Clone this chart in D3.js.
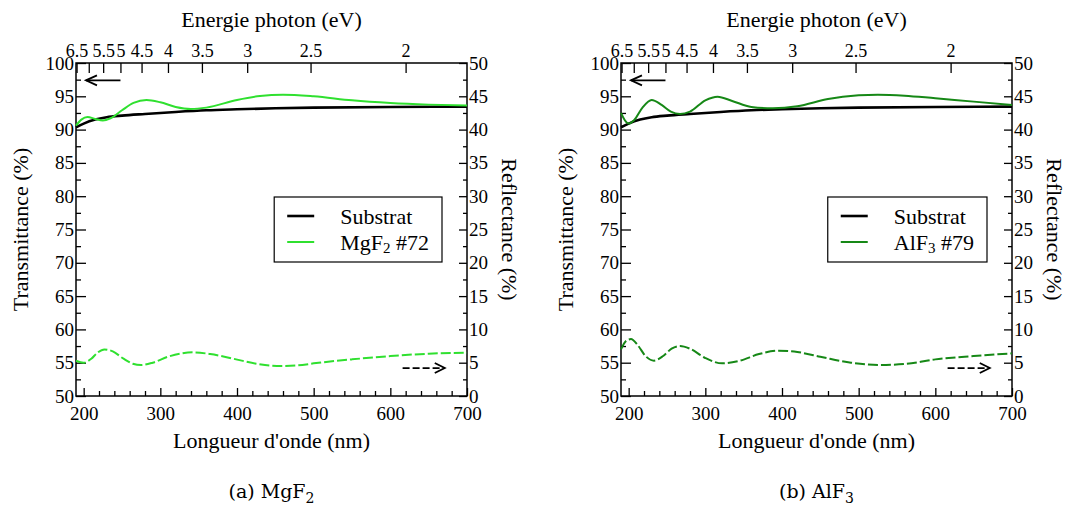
<!DOCTYPE html>
<html><head><meta charset="utf-8">
<script src="https://cdn.jsdelivr.net/npm/d3@7"></script>
<style>
body{margin:0;background:#fff}
svg{display:block;background:#fff}
</style>
</head><body>
<svg id="c" width="1074" height="520"></svg>
<script>
// ---------- DATA ----------
// Panel (a) MgF2
const wlSubA   = [190, 200, 215, 230, 250, 280, 320, 360, 400, 450, 500, 600, 700];
const tSubA    = [90.35, 90.9, 91.5, 91.85, 92.1, 92.35, 92.65, 92.9, 93.05, 93.2, 93.3, 93.4, 93.45];
const wlMgF2T  = [190, 197, 205, 215, 225, 235, 250, 265, 282, 300, 320, 340, 360, 400, 430, 460, 500, 550, 600, 650, 700];
const tMgF2    = [90.6, 91.5, 91.9, 91.6, 91.35, 91.7, 92.9, 94.0, 94.45, 94.1, 93.4, 93.1, 93.3, 94.45, 95.05, 95.25, 95.0, 94.4, 94.0, 93.75, 93.6];
const wlMgF2R  = [190, 200, 210, 218, 227, 238, 252, 264, 275, 290, 310, 325, 342, 365, 395, 425, 452, 480, 500, 550, 600, 650, 700];
const rMgF2    = [5.3, 5.0, 5.6, 6.5, 7.0, 6.7, 5.6, 4.85, 4.65, 5.0, 5.9, 6.35, 6.56, 6.3, 5.6, 4.85, 4.5, 4.6, 4.9, 5.5, 6.0, 6.35, 6.5];

// Panel (b) AlF3
const wlSubB   = [190, 200, 215, 230, 250, 280, 320, 360, 400, 450, 500, 600, 700];
const tSubB    = [90.35, 90.9, 91.5, 91.85, 92.1, 92.35, 92.65, 92.9, 93.05, 93.2, 93.3, 93.4, 93.45];
const wlAlF3T  = [190, 195, 200, 207, 218, 230, 243, 255, 267, 280, 300, 316, 335, 360, 388, 420, 460, 500, 525, 560, 600, 650, 700];
const tAlF3    = [92.5, 91.4, 90.9, 91.4, 93.3, 94.45, 93.7, 92.7, 92.35, 92.7, 94.4, 94.95, 94.3, 93.4, 93.2, 93.5, 94.6, 95.15, 95.25, 95.1, 94.7, 94.2, 93.7];
const wlAlF3R  = [190, 196, 203, 212, 222, 233, 245, 256, 267, 280, 300, 322, 345, 370, 395, 420, 450, 490, 528, 560, 600, 650, 700];
const rAlF3    = [7.0, 8.2, 8.55, 7.6, 6.0, 5.3, 6.0, 7.1, 7.5, 7.1, 5.7, 4.9, 5.3, 6.3, 6.8, 6.6, 5.9, 5.0, 4.65, 4.8, 5.5, 6.0, 6.4];

// Axes ticks
const xTicks      = [200, 300, 400, 500, 600, 700];
const energyTicks = [6.5, 6, 5.5, 5, 4.5, 4, 3.5, 3, 2.5, 2];
const energyLabels= ["6.5", "", "5.5", "5", "4.5", "4", "3.5", "3", "2.5", "2"];
const tTicks      = [50, 55, 60, 65, 70, 75, 80, 85, 90, 95, 100];
const rTicks      = [0, 5, 10, 15, 20, 25, 30, 35, 40, 45, 50];

// ---------- DRAW ----------
const svg = d3.select("#c");
const SERIF = "'Liberation Serif','Times New Roman',serif";
const hc = 1239.84;

function zip(a, b) { return a.map((v, i) => [v, b[i]]); }

function panel(opt) {
  const x0 = opt.x0, x1 = opt.x0 + 391, yTop = 63, yBot = 396;
  const g = svg.append("g");
  const x = d3.scaleLinear().domain([190, 700]).range([x0, x1]);
  const yT = d3.scaleLinear().domain([50, 100]).range([yBot, yTop]);
  const yR = d3.scaleLinear().domain([0, 50]).range([yBot, yTop]);

  function styleAxis(a, size) {
    a.select(".domain").remove();
    a.attr("font-family", null).attr("font-size", null)
     .style("font-family", SERIF).style("font-size", size + "px");
    a.selectAll("line").attr("stroke", "#000").attr("stroke-width", 1.3);
    a.selectAll("text").attr("fill", "#000");
  }

  // bottom axis
  const minorX = d3.range(200, 701, 20).filter(v => v % 100 !== 0);
  styleAxis(g.append("g").attr("transform", `translate(0,${yBot})`)
    .call(d3.axisBottom(x).tickValues(xTicks).tickSize(-8).tickPadding(11).tickFormat(d3.format("d"))), 19);
  styleAxis(g.append("g").attr("transform", `translate(0,${yBot})`)
    .call(d3.axisBottom(x).tickValues(minorX).tickSize(-5).tickFormat("")), 19);

  // top axis (energy)
  styleAxis(g.append("g").attr("transform", `translate(0,${yTop})`)
    .call(d3.axisTop(x).tickValues(energyTicks.map(e => hc / e)).tickSize(-10).tickPadding(6)
      .tickFormat((d, i) => energyLabels[i])), 18);

  // left axis
  styleAxis(g.append("g").attr("transform", `translate(${x0},0)`)
    .call(d3.axisLeft(yT).tickValues(tTicks).tickSize(-10).tickPadding(2).tickFormat(d3.format("d"))), 19);
  styleAxis(g.append("g").attr("transform", `translate(${x0},0)`)
    .call(d3.axisLeft(yT).tickValues(d3.range(52.5, 100, 5)).tickSize(-5).tickFormat("")), 19);

  // right axis
  styleAxis(g.append("g").attr("transform", `translate(${x1},0)`)
    .call(d3.axisRight(yR).tickValues(rTicks).tickSize(-8).tickPadding(2).tickFormat(d3.format("d"))), 19);
  styleAxis(g.append("g").attr("transform", `translate(${x1},0)`)
    .call(d3.axisRight(yR).tickValues(d3.range(2.5, 50, 5)).tickSize(-4).tickFormat("")), 19);

  // frame
  g.append("rect").attr("x", x0).attr("y", yTop).attr("width", x1 - x0).attr("height", yBot - yTop)
    .attr("fill", "none").attr("stroke", "#000").attr("stroke-width", 1.5);

  // curves
  const lineT = d3.line().x(d => x(d[0])).y(d => yT(d[1])).curve(d3.curveMonotoneX);
  const lineR = d3.line().x(d => x(d[0])).y(d => yR(d[1])).curve(d3.curveMonotoneX);
  g.append("path").attr("d", lineR(zip(opt.wlR, opt.r))).attr("fill", "none")
    .attr("stroke", opt.color).attr("stroke-width", 2).attr("stroke-dasharray", "10,3");
  g.append("path").attr("d", lineT(zip(opt.wlSub, opt.tSub))).attr("fill", "none")
    .attr("stroke", "#000").attr("stroke-width", 2.6);
  g.append("path").attr("d", lineT(zip(opt.wlT, opt.t))).attr("fill", "none")
    .attr("stroke", opt.color).attr("stroke-width", 2);

  // arrows
  const ay = yT(97.4);
  const ax0 = x(203), ax1 = x(248);
  g.append("line").attr("x1", ax0).attr("x2", ax1).attr("y1", ay).attr("y2", ay).attr("stroke", "#000").attr("stroke-width", 1.8);
  g.append("path").attr("d", `M${ax0 + 11},${ay - 5}L${ax0},${ay}L${ax0 + 11},${ay + 5}`)
    .attr("fill", "none").attr("stroke", "#000").attr("stroke-width", 1.8);
  const by = yR(4.2);
  const bx0 = x(616), bx1 = x(671);
  g.append("line").attr("x1", bx0).attr("x2", bx1).attr("y1", by).attr("y2", by).attr("stroke", "#000")
    .attr("stroke-width", 1.8).attr("stroke-dasharray", "7,3");
  g.append("path").attr("d", `M${bx1 - 10},${by - 5}L${bx1},${by}L${bx1 - 10},${by + 5}`)
    .attr("fill", "none").attr("stroke", "#000").attr("stroke-width", 1.8);

  // axis titles
  const cx = (x0 + x1) / 2, cy = (yTop + yBot) / 2;
  const title = (sel) => sel.style("font-family", SERIF).style("font-size", "22px").attr("fill", "#000");
  g.append("text").attr("x", cx).attr("y", 448).attr("text-anchor", "middle").call(title).text("Longueur d'onde (nm)");
  g.append("text").attr("x", cx).attr("y", 27).attr("text-anchor", "middle").call(title).text("Energie photon (eV)");
  g.append("text").attr("transform", `translate(${x0 - 48},${cy}) rotate(-90)`).attr("text-anchor", "middle")
    .call(title).text("Transmittance (%)");
  g.append("text").attr("transform", `translate(${x1 + 35},${cy}) rotate(90)`).attr("text-anchor", "middle")
    .call(title).text("Reflectance (%)");

  // legend
  const lg = g.append("g").style("font-family", SERIF).style("font-size", "22px");
  const t1 = lg.append("text").attr("y", 224).text("Substrat");
  const t2 = lg.append("text").attr("y", 250);
  t2.append("tspan").text(opt.mat);
  t2.append("tspan").style("font-size", "15px").attr("dy", 3).text(opt.sub);
  t2.append("tspan").attr("dy", -3).text(" " + opt.num);
  const w = Math.max(t1.node().getComputedTextLength(), t2.node().getComputedTextLength());
  const boxR = x1 - 25;
  const tx = boxR - 13 - w;
  t1.attr("x", tx); t2.attr("x", tx);
  lg.append("rect").attr("x", tx - 66).attr("y", 197).attr("width", boxR - (tx - 66)).attr("height", 65)
    .attr("fill", "none").attr("stroke", "#000").attr("stroke-width", 1.2);
  lg.append("line").attr("x1", tx - 53).attr("x2", tx - 26).attr("y1", 216).attr("y2", 216)
    .attr("stroke", "#000").attr("stroke-width", 2.6);
  lg.append("line").attr("x1", tx - 53).attr("x2", tx - 26).attr("y1", 242).attr("y2", 242)
    .attr("stroke", opt.color).attr("stroke-width", 2);

  // caption
  const cap = g.append("text").attr("x", cx).attr("y", 498).attr("text-anchor", "middle")
    .style("font-family", "'DejaVu Serif',serif").style("font-size", "19px");
  cap.append("tspan").text(opt.caption + " " + opt.mat);
  cap.append("tspan").style("font-size", "14px").attr("dy", 5).text(opt.sub);
}

panel({ x0: 76, color: "#2fe02f", wlSub: wlSubA, tSub: tSubA, wlT: wlMgF2T, t: tMgF2, wlR: wlMgF2R, r: rMgF2,
        mat: "MgF", sub: "2", num: "#72", caption: "(a)" });
panel({ x0: 621, color: "#168816", wlSub: wlSubB, tSub: tSubB, wlT: wlAlF3T, t: tAlF3, wlR: wlAlF3R, r: rAlF3,
        mat: "AlF", sub: "3", num: "#79", caption: "(b)" });
</script>
</body></html>
